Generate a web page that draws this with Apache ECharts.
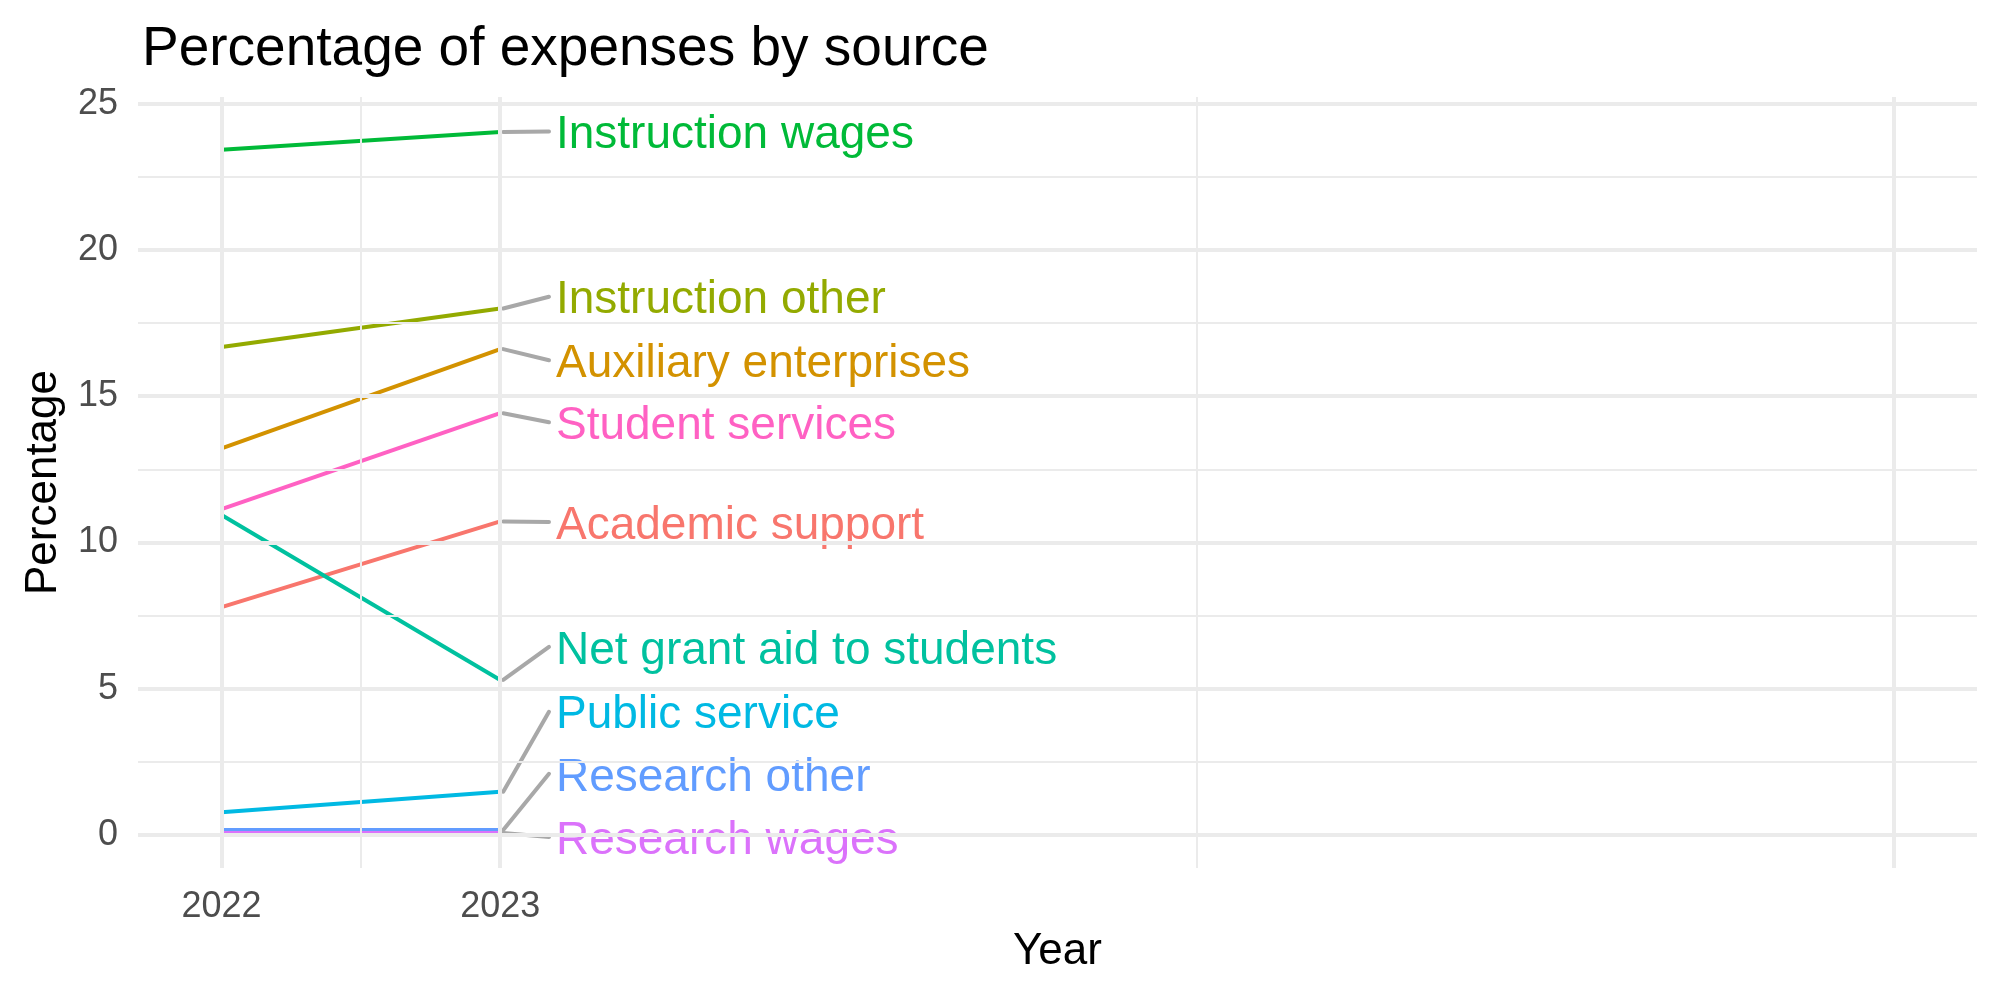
<!DOCTYPE html>
<html>
<head>
<meta charset="utf-8">
<script src="https://cdn.jsdelivr.net/npm/echarts@6/dist/echarts.min.js"></script>
<style>
  html, body { margin: 0; padding: 0; background: #fff; }
  #myChart { width: 2000px; height: 1000px; }
</style>
</head>
<body>
<div id="myChart"></div>
<script>
// categories (ggplot factor order)
var sources = [
  "Academic support", "Auxiliary enterprises", "Instruction other",
  "Instruction wages", "Net grant aid to students", "Public service",
  "Research other", "Research wages", "Student services"
];
var years = [2022, 2023];
// percentage for 2022 / 2023
var value2022 = [7.79, 13.22, 16.68, 23.43, 10.94, 0.78, 0.17, 0.07, 11.14];
var value2023 = [10.72, 16.61, 18.00, 24.03, 5.30, 1.48, 0.17, 0.07, 14.42];
// where the repelled labels ended up (in percentage units)
var labelY = [10.70, 16.23, 18.40, 24.05, 6.43, 4.21, 2.09, -0.07, 14.11];
var colors = ["#F8766D", "#D39200", "#93AA00", "#00BA38", "#00C19F",
              "#00B9E3", "#619CFF", "#DB72FB", "#FF61C3"];
// breaks
var xMajor = [2022, 2023, 2028];
var xMinor = [2022.5, 2025.5];
var xLabels = [2022, 2023];
var yMajor = [0, 5, 10, 15, 20, 25];
var yMinor = [2.5, 7.5, 12.5, 17.5, 22.5];

var font = "Liberation Sans";
var gridColor = "#EBEBEB";

var myChart = echarts.init(document.getElementById("myChart"));

// gridlines drawn as mark lines
var gridLines = [];
xMajor.forEach(function (v) { gridLines.push({ xAxis: v, lineStyle: { width: 4 } }); });
xMinor.forEach(function (v) { gridLines.push({ xAxis: v, lineStyle: { width: 2 } }); });
yMajor.forEach(function (v) { gridLines.push({ yAxis: v, lineStyle: { width: 4 } }); });
yMinor.forEach(function (v) { gridLines.push({ yAxis: v, lineStyle: { width: 2 } }); });

var series = [
  {
    name: "grid",
    type: "line",
    data: [],
    z: 1,
    silent: true,
    markLine: {
      silent: true,
      symbol: ["none", "none"],
      label: { show: false },
      animation: false,
      lineStyle: { color: gridColor, type: "solid" },
      emphasis: { disabled: true },
      data: gridLines
    }
  }
];

sources.forEach(function (name, i) {
  series.push({
    name: name,
    type: "line",
    z: 2,
    symbol: "none",
    data: [[years[0], value2022[i]], [years[1], value2023[i]]],
    lineStyle: { color: colors[i], width: 4 },
    itemStyle: { color: colors[i] }
  });
});

// repel-style labels with grey segments
var labelRows = sources.map(function (name, i) {
  return [years[1], value2023[i], labelY[i], i];
});
series.push({
  type: "custom",
  z: 3,
  silent: true,
  data: labelRows,
  renderItem: function (params, api) {
    var i = api.value(3);
    var p0 = api.coord([api.value(0), api.value(1)]);
    var p1 = api.coord([api.value(0) + 0.175, api.value(2)]);
    var pt = api.coord([api.value(0) + 0.2, api.value(2)]);
    return {
      type: "group",
      children: [
        {
          type: "line",
          shape: { x1: p0[0] + 3, y1: p0[1], x2: p1[0], y2: p1[1] },
          style: { stroke: "#A8A8A8", lineWidth: 4, lineCap: "round" }
        },
        {
          type: "text",
          x: pt[0],
          y: pt[1] + 4,
          style: {
            text: sources[i],
            fill: colors[i],
            font: "46px '" + font + "'",
            align: "left",
            verticalAlign: "middle"
          }
        }
      ]
    };
  }
});

myChart.setOption({
  animation: false,
  backgroundColor: "#ffffff",
  title: {
    text: "Percentage of expenses by source",
    left: 137,
    top: 17,
    textStyle: { fontFamily: font, fontSize: 55, fontWeight: "normal", color: "#000000" }
  },
  grid: { left: 138, right: 23, top: 97, bottom: 132 },
  xAxis: {
    type: "value",
    min: 2021.7,
    max: 2028.3,
    name: "Year",
    nameLocation: "middle",
    nameGap: 62,
    nameTextStyle: { fontFamily: font, fontSize: 44, color: "#000000" },
    axisLine: { show: false },
    axisTick: { show: false },
    splitLine: { show: false },
    axisLabel: {
      customValues: xLabels,
      margin: 21,
      fontFamily: font,
      fontSize: 36,
      color: "#4D4D4D",
      formatter: function (v) { return String(v); }
    }
  },
  yAxis: {
    type: "value",
    min: -1.13,
    max: 25.23,
    name: "Percentage",
    nameLocation: "middle",
    nameGap: 72,
    nameTextStyle: { fontFamily: font, fontSize: 44, color: "#000000" },
    axisLine: { show: false },
    axisTick: { show: false },
    splitLine: { show: false },
    axisLabel: {
      customValues: yMajor,
      margin: 20,
      fontFamily: font,
      fontSize: 36,
      color: "#4D4D4D"
    }
  },
  series: series
});
</script>
</body>
</html>
